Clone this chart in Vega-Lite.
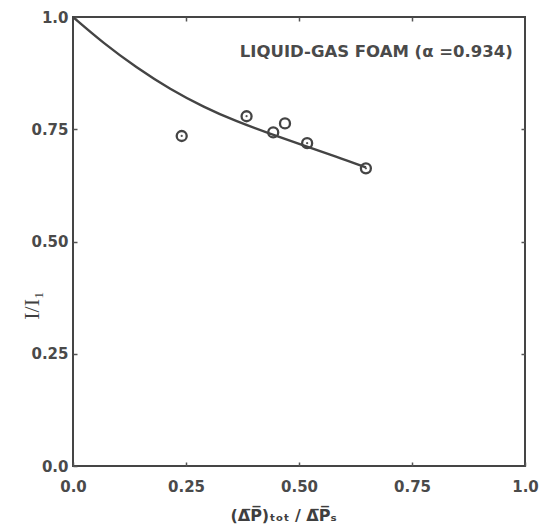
{
  "$schema": "https://vega.github.io/schema/vega-lite/v6.json",
  "autosize": {"type": "none"},
  "padding": {"left": 73, "top": 17, "right": 19, "bottom": 64},
  "width": 452,
  "height": 449,
  "background": "#ffffff",
  "config": {
    "view": {"stroke": "#454545", "strokeWidth": 2},
    "axis": {
      "grid": false,
      "domain": false,
      "tickColor": "#555555",
      "tickWidth": 1.5,
      "labelFont": "DejaVu Sans",
      "labelFontWeight": "bold",
      "labelColor": "#4a4a4a",
      "labelFontSize": 15,
      "titleColor": "#3f3f3f"
    }
  },
  "datasets": {
    "curve": [
      {"x": 0.0, "y": 1.0},
      {"x": 0.067, "y": 0.942},
      {"x": 0.141, "y": 0.887},
      {"x": 0.215, "y": 0.839},
      {"x": 0.29, "y": 0.799},
      {"x": 0.36, "y": 0.768},
      {"x": 0.436, "y": 0.74},
      {"x": 0.51, "y": 0.714},
      {"x": 0.583, "y": 0.689},
      {"x": 0.648, "y": 0.665}
    ],
    "points": [
      {"x": 0.2405, "y": 0.735, "dot": true},
      {"x": 0.384, "y": 0.779, "dot": true},
      {"x": 0.443, "y": 0.743, "dot": false},
      {"x": 0.469, "y": 0.763, "dot": false},
      {"x": 0.518, "y": 0.719, "dot": true},
      {"x": 0.648, "y": 0.663, "dot": true}
    ],
    "note": [
      {"x": 0.973, "y": 0.922, "label": "LIQUID-GAS FOAM (α =0.934)"}
    ]
  },
  "resolve": {"axis": {"x": "independent", "y": "independent"}},
  "layer": [
    {
      "data": {"name": "curve"},
      "mark": {"type": "line", "interpolate": "basis", "color": "#444444", "strokeWidth": 2.4},
      "encoding": {
        "x": {
          "field": "x", "type": "quantitative",
          "scale": {"domain": [0, 1], "nice": false},
          "axis": {
            "orient": "bottom",
            "values": [0, 0.25, 0.5, 0.75, 1],
            "labelExpr": "datum.value == 0 ? '0.0' : datum.value == 1 ? '1.0' : format(datum.value, '.2f')",
            "tickSize": -4,
            "labelPadding": 17,
            "labelFlush": false,
            "title": "(Δ̅P̅)ₜₒₜ / Δ̅P̅ₛ",
            "titleFont": "DejaVu Sans",
            "titleFontWeight": "bold",
            "titleFontSize": 16,
            "titleX": 210,
            "titleY": 49,
            "titleBaseline": "middle"
          }
        },
        "y": {
          "field": "y", "type": "quantitative",
          "scale": {"domain": [0, 1], "nice": false},
          "axis": {
            "orient": "left",
            "values": [0, 0.25, 0.5, 0.75, 1],
            "labelExpr": "datum.value == 0 ? '0.0' : datum.value == 1 ? '1.0' : format(datum.value, '.2f')",
            "tickSize": -4,
            "labelPadding": 9,
            "labelFlush": false,
            "title": "I/I₁",
            "titleFont": "Liberation Serif",
            "titleFontWeight": "normal",
            "titleFontSize": 22,
            "titleX": -42,
            "titleY": 288,
            "titleAlign": "center",
            "titleBaseline": "middle"
          }
        }
      }
    },
    {
      "data": {"name": "points"},
      "mark": {"type": "point", "shape": "circle", "filled": false, "color": "#444444", "strokeWidth": 2.3, "size": 100, "opacity": 1},
      "encoding": {
        "x": {
          "field": "x", "type": "quantitative",
          "scale": {"domain": [0, 1], "nice": false},
          "axis": {"orient": "top", "values": [0.25, 0.5, 0.75], "labels": false, "title": null, "tickSize": -4}
        },
        "y": {
          "field": "y", "type": "quantitative",
          "scale": {"domain": [0, 1], "nice": false},
          "axis": {"orient": "right", "values": [0.25, 0.5, 0.75], "labels": false, "title": null, "tickSize": -4}
        }
      }
    },
    {
      "data": {"name": "points"},
      "transform": [{"filter": "datum.dot"}],
      "mark": {"type": "point", "shape": "circle", "filled": true, "color": "#555555", "size": 5, "opacity": 1},
      "encoding": {
        "x": {"field": "x", "type": "quantitative", "scale": {"domain": [0, 1], "nice": false}, "axis": null},
        "y": {"field": "y", "type": "quantitative", "scale": {"domain": [0, 1], "nice": false}, "axis": null}
      }
    },
    {
      "data": {"name": "note"},
      "mark": {"type": "text", "align": "right", "baseline": "middle", "font": "DejaVu Sans", "fontWeight": "bold", "fontSize": 16.5, "color": "#4a4a4a"},
      "encoding": {
        "x": {"field": "x", "type": "quantitative", "scale": {"domain": [0, 1], "nice": false}, "axis": null},
        "y": {"field": "y", "type": "quantitative", "scale": {"domain": [0, 1], "nice": false}, "axis": null},
        "text": {"field": "label"}
      }
    }
  ]
}
